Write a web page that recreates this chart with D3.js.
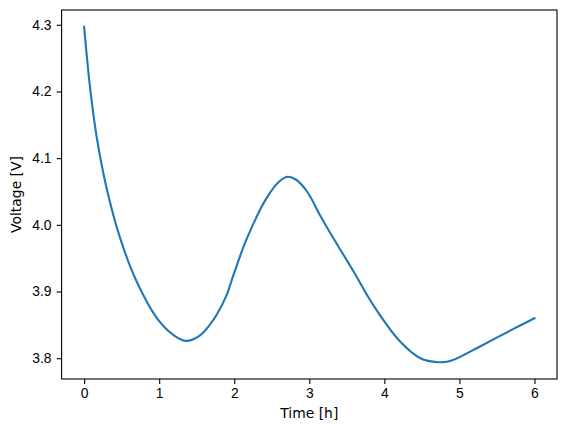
<!DOCTYPE html>
<meta charset="utf-8">
<style>

body {
  margin: 0;
  background: #fff;
}

svg {
  display: block;
  font-family: "DejaVu Sans", sans-serif;
}

.axis text {
  font-size: 13.9px;
  fill: #000;
}

.axis line {
  stroke: #000;
  stroke-width: 1.1px;
}

.axis path {
  display: none;
}

.line {
  fill: none;
  stroke: #1f77b4;
  stroke-width: 2.1px;
  stroke-linejoin: round;
  stroke-linecap: square;
}

</style>
<svg width="567" height="432"></svg>
<script src="https://cdn.jsdelivr.net/npm/d3@7"></script>
<script>

// values
var time_h = [0, 0.08, 0.17, 0.3, 0.48, 0.7, 0.99, 1.2, 1.36, 1.54, 1.68, 1.77, 1.9, 1.99,
              2.17, 2.43, 2.6, 2.71, 2.82, 2.97, 3.13, 3.23, 3.59, 3.85, 4.21, 4.48, 4.72,
              4.85, 4.97, 5.28, 5.72, 6.0];
var voltage = [4.297, 4.205, 4.130, 4.055, 3.980, 3.915, 3.857, 3.834, 3.826, 3.834, 3.851,
               3.866, 3.895, 3.925, 3.980, 4.040, 4.065, 4.072, 4.068, 4.050, 4.017, 3.997,
               3.930, 3.880, 3.825, 3.800, 3.794, 3.795, 3.800, 3.818, 3.844, 3.860];
var x_ticks = [0, 1, 2, 3, 4, 5, 6];
var y_ticks = [3.8, 3.9, 4.0, 4.1, 4.2, 4.3];

var svg = d3.select("svg"),
    margin = {top: 10, right: 10, bottom: 53, left: 61.6},
    width = svg.attr("width") - margin.left - margin.right,
    height = svg.attr("height") - margin.top - margin.bottom,
    g = svg.append("g").attr("transform", "translate(" + margin.left + "," + margin.top + ")");

var data = time_h.map(function(t, i) { return {t: t, v: voltage[i]}; });

// matplotlib style 5% margins
function padded(ext) {
  var p = (ext[1] - ext[0]) * 0.05;
  return [ext[0] - p, ext[1] + p];
}

var x = d3.scaleLinear().domain(padded(d3.extent(time_h))).range([0, width]),
    y = d3.scaleLinear().domain(padded(d3.extent(voltage))).range([height, 0]);

var line = d3.line()
    .curve(d3.curveCatmullRom.alpha(0.5))
    .x(function(d) { return x(d.t); })
    .y(function(d) { return y(d.v); });

g.append("g")
    .attr("class", "axis axis--x")
    .attr("transform", "translate(0," + height + ")")
    .call(d3.axisBottom(x).tickValues(x_ticks).tickFormat(d3.format("d"))
      .tickSizeInner(4.9).tickSizeOuter(0).tickPadding(4.6));

g.append("g")
    .attr("class", "axis axis--y")
    .call(d3.axisLeft(y).tickValues(y_ticks).tickFormat(d3.format(".1f"))
      .tickSizeInner(4.9).tickSizeOuter(0).tickPadding(5.2));

g.append("path")
    .datum(data)
    .attr("class", "line")
    .attr("d", line);

// frame
g.append("rect")
    .attr("width", width)
    .attr("height", height)
    .attr("fill", "none")
    .attr("stroke", "#000")
    .attr("stroke-width", 1.1);

svg.append("text")
    .attr("x", margin.left + width / 2)
    .attr("y", 418)
    .attr("text-anchor", "middle")
    .style("font-size", "13.9px")
    .text("Time [h]");

svg.append("text")
    .attr("transform", "translate(21," + (margin.top + height / 2) + ") rotate(-90)")
    .attr("text-anchor", "middle")
    .style("font-size", "13.9px")
    .text("Voltage [V]");

</script>
